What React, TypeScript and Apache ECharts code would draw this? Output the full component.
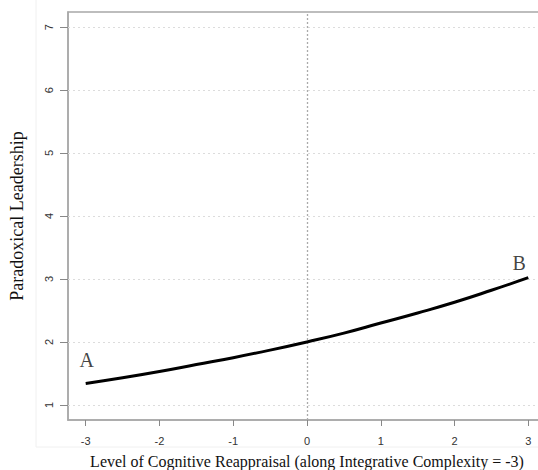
import React, { useEffect, useRef } from "react";
import * as echarts from "echarts";

const xValues = [-3, -2.5, -2, -1.5, -1, -0.5, 0, 0.5, 1, 1.5, 2, 2.5, 3];
const yValues = [1.34, 1.43, 1.53, 1.64, 1.75, 1.87, 2.0, 2.14, 2.3, 2.46, 2.63, 2.82, 3.02];
const xTicks = [-3, -2, -1, 0, 1, 2, 3];
const yTicks = [1, 2, 3, 4, 5, 6, 7];
const pointLabels = [
  { x: -3, y: 1.34, text: "A" },
  { x: 3, y: 3.02, text: "B" },
];

const serif = "'Liberation Serif', 'DejaVu Serif', serif";
const sans = "'Liberation Sans', Arial, sans-serif";

export default function App() {
  const ref = useRef<HTMLDivElement>(null);
  useEffect(() => {
    document.body.style.margin = "0";
    const chart = echarts.init(ref.current!, null, { renderer: "svg" });
    const lineData = xValues.map((x, i) => [x, yValues[i]]);
    chart.setOption({
      animation: false,
      backgroundColor: "#fff",
      grid: {
        left: 68,
        top: 12,
        width: 478,
        height: 408,
        outerBoundsMode: "none",
        containLabel: false,
        show: true,
        borderColor: "#a8a8a8",
        borderWidth: 1.5,
      },
      graphic: [
        {
          type: "polyline",
          shape: { points: [[36, 0], [36, 447], [538, 447]] },
          style: { stroke: "#f0f0f0", lineWidth: 1, fill: null },
          silent: true,
        },
      ],
      xAxis: {
        type: "value",
        min: -3.24,
        max: 3.24,
        name: "Level of Cognitive Reappraisal (along Integrative Complexity = -3)",
        nameLocation: "middle",
        nameGap: 33,
        nameTextStyle: { fontFamily: serif, fontSize: 16, color: "#111" },
        axisLine: { show: true, onZero: false, lineStyle: { color: "#a8a8a8", width: 1.5 } },
        axisTick: {
          show: true,
          customValues: xTicks,
          length: 6,
          lineStyle: { color: "#888", width: 1 },
        },
        axisLabel: {
          customValues: xTicks,
          margin: 15,
          fontFamily: sans,
          fontSize: 11,
          color: "#333",
        },
        splitLine: { show: false },
      },
      yAxis: {
        type: "value",
        min: 0.76,
        max: 7.24,
        name: "Paradoxical Leadership",
        nameLocation: "middle",
        nameGap: 42,
        nameRotate: 90,
        nameTextStyle: { fontFamily: serif, fontSize: 18, color: "#111" },
        axisLine: { show: true, onZero: false, lineStyle: { color: "#a8a8a8", width: 1.5 } },
        axisTick: {
          show: true,
          customValues: yTicks,
          length: 8,
          lineStyle: { color: "#888", width: 1 },
        },
        axisLabel: {
          customValues: yTicks,
          rotate: 90,
          margin: 14,
          fontFamily: sans,
          fontSize: 11,
          color: "#333",
        },
        splitLine: { show: false },
      },
      series: [
        {
          type: "line",
          data: lineData,
          showSymbol: false,
          smooth: true,
          lineStyle: { color: "#000", width: 3 },
          z: 5,
          markLine: {
            silent: true,
            symbol: "none",
            label: { show: false },
            data: [
              ...yTicks.map((v) => ({
                yAxis: v,
                lineStyle: { color: "#dcdcdc", type: [2, 3], width: 1 },
              })),
              { xAxis: 0, lineStyle: { color: "#aaa", type: [2, 2], width: 1.3 } },
            ],
          },
        },
        {
          type: "scatter",
          symbolSize: 0,
          data: pointLabels.map((p, i) => ({
            value: [p.x, p.y],
            label: {
              show: true,
              formatter: p.text,
              position: "top",
              offset: i === 0 ? [1, -8] : [-9, 0],
              fontFamily: serif,
              fontSize: 20,
              color: "#111",
            },
          })),
          z: 6,
        },
      ],
    });
    return () => chart.dispose();
  }, []);
  return <div ref={ref} style={{ width: 538, height: 470 }} />;
}
